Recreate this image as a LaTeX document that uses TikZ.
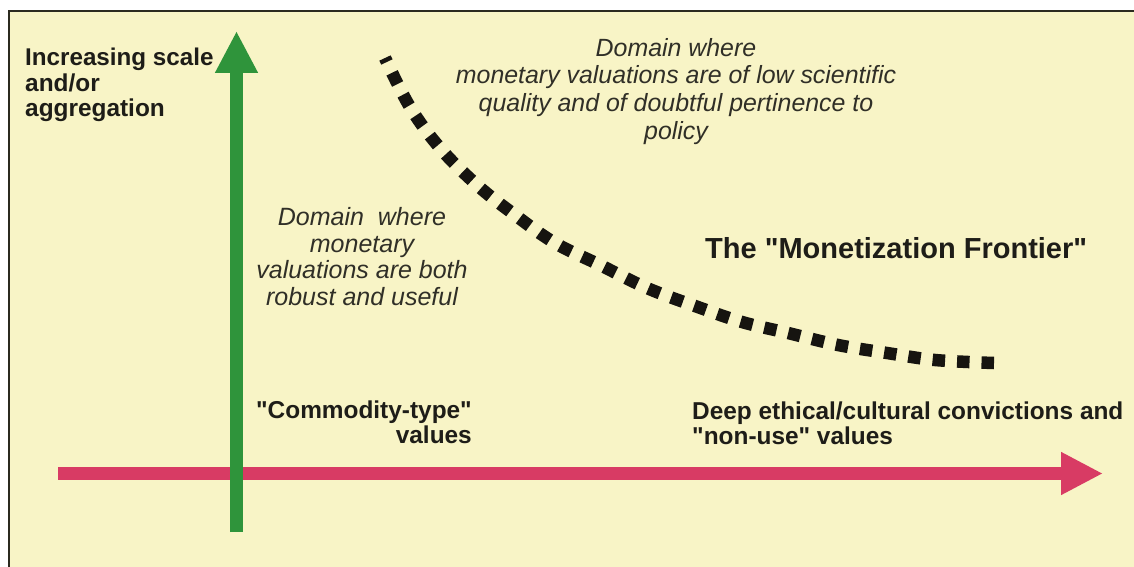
\documentclass[tikz,border=0pt]{standalone}
\usepackage{fontspec}
% straight double quotes stay straight
\setmainfont{Liberation Sans}[Ligatures=TeXOff]
\usetikzlibrary{arrows.meta}
\definecolor{cream}{HTML}{F8F4C6}
\definecolor{framecol}{HTML}{2B2A1F}
\definecolor{axisgreen}{HTML}{2F943B}
\definecolor{axispink}{HTML}{D83B64}
\definecolor{boldink}{HTML}{1E1D18}
\definecolor{italink}{HTML}{302F27}
\definecolor{dotink}{HTML}{161410}
\tikzset{
  boldlabel/.style={font=\bfseries\fontsize{24.4}{25.5}\selectfont, text=boldink, inner sep=0pt},
  italiclabel/.style={font=\itshape, text=italink, inner sep=0pt, align=center},
  axisarrow/.style={line width=13pt, -{Triangle[width=40pt,length=42pt]}},
  frontier/.style={line width=12.5pt, dotink, dash pattern=on 12.5pt off 12pt, line cap=butt}
}
\begin{document}
\begin{tikzpicture}[x=1pt,y=-1pt]
  \useasboundingbox (0,0) rectangle (1134,567);
  % page and panel
  \fill[white] (0,0) rectangle (1134,567);
  \fill[cream] (9,11) rectangle (1134,567);
  \draw[framecol, line width=2.5pt] (9,567) -- (9,11) -- (1134,11);

  % axes
  \coordinate (xstart) at (58,473.5);
  \coordinate (xend) at (1103,473.5);
  \coordinate (ystart) at (236.5,532);
  \coordinate (yend) at (236.5,31);
  \draw[axisarrow, axispink] (xstart) -- (xend);
  \draw[axisarrow, axisgreen] (ystart) -- (yend);

  % the monetization frontier, traced from its flat end so that end gets a whole dot
  \draw[frontier] plot[smooth, tension=0.6] coordinates {
    (994,363) (935,360) (887,353) (838,345) (788,333) (742,322)
    (695,306) (647,288) (600,265) (555,243) (515,215) (477,185)
    (440,148) (410,107) (385,58)};

  % labels
  \node[boldlabel, anchor=north west, align=left] (yaxis) at (25,48)
    {\fontsize{24.2}{27}\selectfont Increasing scale\\and/or\\aggregation};
  \node[italiclabel, anchor=north, font=\itshape\fontsize{24.9}{27.7}\selectfont] (upper) at (676,38)
    {Domain where\\monetary valuations are of low scientific\\quality and of doubtful pertinence to\\policy};
  \node[italiclabel, anchor=north, font=\itshape\fontsize{25}{26.8}\selectfont] (lower) at (362,207)
    {Domain\ \ where\\monetary\\valuations are both\\robust and useful};
  \node[boldlabel, anchor=base west, font=\bfseries\fontsize{29}{30}\selectfont] (frontiername) at (705,258)
    {The "Monetization Frontier"};
  \node[boldlabel, anchor=north east, align=right] (commodity) at (472,400.5)
    {"Commodity-type"\\values};
  \node[boldlabel, anchor=north west, align=left] (ethical) at (692,401.5)
    {Deep ethical/cultural convictions and\\"non-use" values};
\end{tikzpicture}
\end{document}
